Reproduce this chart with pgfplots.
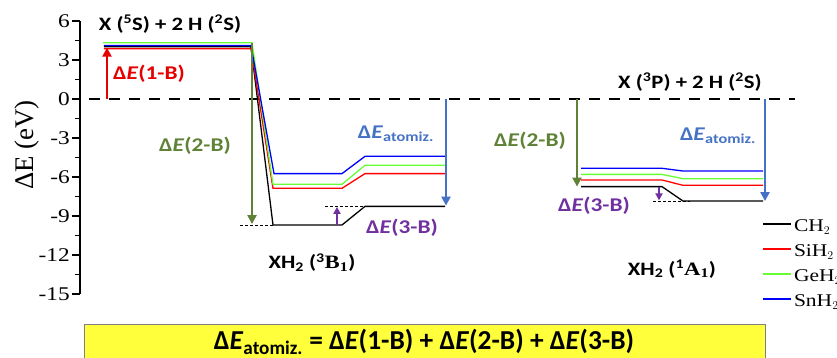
\documentclass[border=0pt]{standalone}
\usepackage{fontspec}
\setmainfont{Liberation Serif}
\newfontfamily\tnr{Liberation Serif}[FakeStretch=1.2]
\newfontfamily\calib{Carlito}[FakeStretch=1.2]
\newfontfamily\calibn{Carlito}
\usepackage{pgfplots}
\pgfplotsset{compat=1.18}
\usetikzlibrary{arrows.meta}
\definecolor{cgreen}{RGB}{95,130,55}
\definecolor{cblue}{RGB}{68,114,196}
\definecolor{cpurple}{RGB}{112,48,160}
\definecolor{cred}{RGB}{230,0,0}
\definecolor{lgreen}{RGB}{102,255,51}
\definecolor{cyell}{RGB}{255,255,60}
\newcommand{\lab}{\calib\bfseries\fontsize{19.5}{22}\selectfont}
\newcommand{\stlab}{\calib\bfseries\fontsize{19}{21}\selectfont}
\newcommand{\dE}{Δ\textit{E}}
\begin{document}
\begin{tikzpicture}
\useasboundingbox (-80bp,-64bp) rectangle (757bp,294bp);
\begin{axis}[
  at={(0,0)}, anchor=south west,
  scale only axis, width=757bp, height=273bp,
  xmin=80, xmax=837, ymin=-15, ymax=6,
  clip=false,
  hide x axis, axis y line*=left,
  ytick={-15,-12,...,6}, minor y tick num=1,
  tick align=outside, major tick length=8bp, minor tick length=5bp,
  axis line style={line width=1.5bp},
  every tick/.style={line width=1.5bp, black},
  /pgf/number format/assume math mode=true,
  yticklabel style={font=\tnr\fontsize{19.5}{22}\selectfont, inner sep=2bp},
  unbounded coords=jump,
  legend style={at={(axis cs:762,-9.12)}, anchor=north west, draw=none, fill=none,
    font=\tnr\fontsize{18}{20}\selectfont, row sep=4bp, inner sep=0pt,
    nodes={inner sep=2bp, text height=12bp, text depth=5bp}},
  legend cell align=left,
  legend image code/.code={\draw[#1,line width=1.8bp] (0bp,4bp) -- (28bp,4bp);},
]
% zero reference line
\addplot[forget plot, black, line width=2.8bp, dash pattern=on 11bp off 9bp] coordinates {(89,0) (795,0)};
% thin dashed guides
\addplot[forget plot, black, line width=0.6bp, dash pattern=on 3bp off 2bp] coordinates {(240,-9.69) (273,-9.69)};
\addplot[forget plot, black, line width=0.6bp, dash pattern=on 3bp off 2bp] coordinates {(325,-8.26) (395,-8.26)};
\addplot[forget plot, black, line width=0.6bp, dash pattern=on 3bp off 2bp] coordinates {(653,-7.85) (690,-7.85)};
% energy levels
\addplot[black, line width=1.3bp] coordinates {(104,4.02) (251,4.02) (273,-9.69) (342,-9.69) (365,-8.26) (445,-8.26) (520,nan) (581,-6.74) (662,-6.74) (683,-7.85) (763,-7.85)};
\addlegendentry{CH$_2$}
\addplot[red, line width=1.3bp] coordinates {(104,3.87) (251,3.87) (273,-6.87) (342,-6.87) (365,-5.74) (445,-5.74) (520,nan) (581,-6.23) (662,-6.23) (683,-6.64) (763,-6.64)};
\addlegendentry{SiH$_2$}
\addplot[lgreen, line width=1.3bp] coordinates {(103,4.33) (252,4.33) (273,-6.56) (342,-6.56) (365,-5.1) (445,-5.1) (520,nan) (581,-5.8) (662,-5.8) (683,-6.13) (763,-6.13)};
\addlegendentry{GeH$_2$}
\addplot[blue, line width=1.3bp] coordinates {(104,4.12) (251,4.12) (274,-5.74) (342,-5.74) (365,-4.41) (445,-4.41) (520,nan) (581,-5.33) (662,-5.33) (683,-5.54) (763,-5.54)};
\addlegendentry{SnH$_2$}
% arrows
\addplot[forget plot, cred, line width=2.5bp, -{Triangle[length=9bp,width=9bp]}] coordinates {(107,0) (107,3.95)};
\addplot[forget plot, cgreen, line width=2.8bp, -{Triangle[length=9bp,width=9bp]}] coordinates {(252,4.33) (252,-9.62)};
\addplot[forget plot, cblue, line width=2.8bp, -{Triangle[length=9bp,width=9bp]}] coordinates {(446,0) (446,-8.2)};
\addplot[forget plot, cpurple, line width=2bp, -{Triangle[length=7bp,width=7bp]}] coordinates {(337,-9.69) (337,-8.3)};
\addplot[forget plot, cgreen, line width=2.8bp, -{Triangle[length=9bp,width=9bp]}] coordinates {(577,0) (577,-6.74)};
\addplot[forget plot, cblue, line width=2.8bp, -{Triangle[length=9bp,width=9bp]}] coordinates {(765,0) (765,-7.85)};
\addplot[forget plot, cpurple, line width=2bp, -{Triangle[length=7bp,width=7bp]}] coordinates {(659,-6.74) (659,-7.8)};
% labels
\node[font=\stlab] at (axis cs:170,5.77) {X (\textsuperscript{5}S) + 2 H (\textsuperscript{2}S)};
\node[font=\stlab] at (axis cs:690,1.31) {X (\textsuperscript{3}P) + 2 H (\textsuperscript{2}S)};
\node[text=cred, font=\lab] at (axis cs:149,1.92) {\dE(1-B)};
\node[text=cgreen, font=\lab] at (axis cs:195,-3.6) {\dE(2-B)};
\node[text=cgreen, font=\lab] at (axis cs:530,-3.23) {\dE(2-B)};
\node[text=cblue, font=\lab] at (axis cs:396,-2.7) {\dE\textsubscript{atomiz.}};
\node[text=cblue, font=\lab] at (axis cs:718,-2.85) {\dE\textsubscript{atomiz.}};
\node[text=cpurple, font=\lab] at (axis cs:402,-9.92) {\dE(3-B)};
\node[text=cpurple, font=\lab] at (axis cs:594,-8.23) {\dE(3-B)};
\node[font=\stlab] at (axis cs:312,-12.6) {XH\textsubscript{2} (\textsuperscript{3}{\tnr B\textsubscript{1}})};
\node[font=\stlab] at (axis cs:672,-13.08) {XH\textsubscript{2} (\textsuperscript{1}{\tnr A\textsubscript{1}})};
% y label
\node[rotate=90, font=\fontsize{27}{29}\selectfont] at (axis cs:27,-3.54) {ΔE (eV)};
% formula box
\draw[fill=cyell, draw=gray, line width=1bp] (axis cs:85,-17.38) rectangle (axis cs:765,-21);
\node[font=\calibn\bfseries\fontsize{27.5}{29}\selectfont] at (axis cs:424,-18.7) {\dE\textsubscript{atomiz.} = \dE(1-B) + \dE(2-B) + \dE(3-B)};
\end{axis}
\end{tikzpicture}
\end{document}
